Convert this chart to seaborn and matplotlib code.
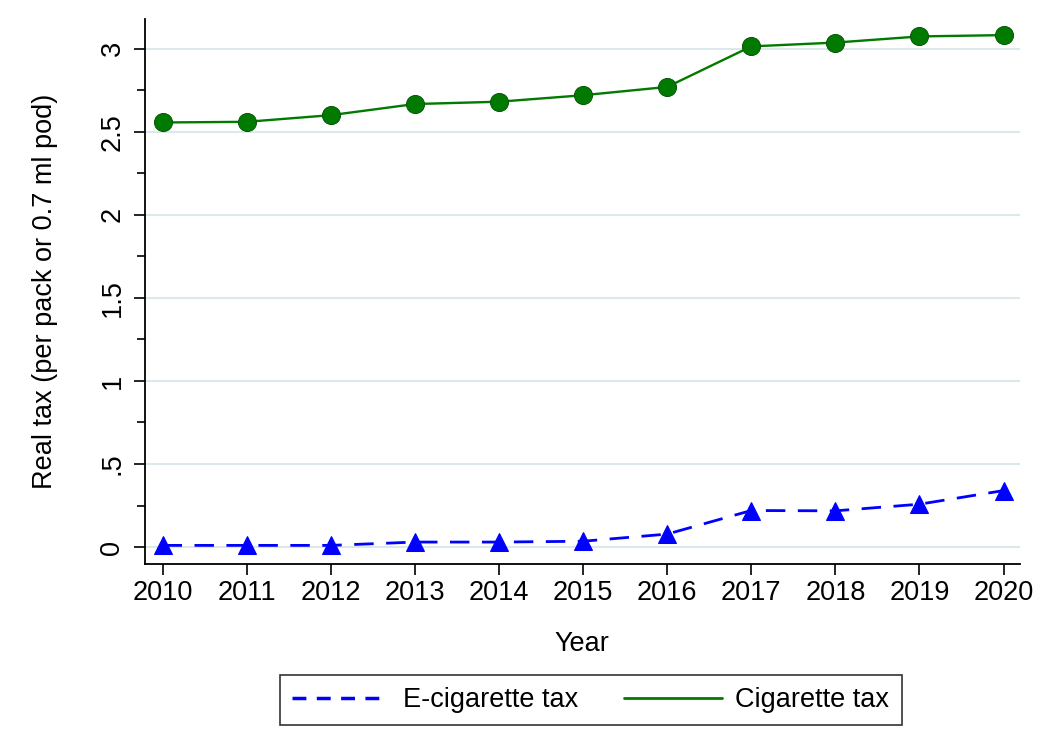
import pandas as pd
import matplotlib.pyplot as plt
import seaborn as sns
from matplotlib.lines import Line2D
from matplotlib.ticker import MultipleLocator

# data
years = [2010, 2011, 2012, 2013, 2014, 2015, 2016, 2017, 2018, 2019, 2020]
cig_tax = [2.556, 2.560, 2.600, 2.667, 2.681, 2.720, 2.770, 3.014, 3.037, 3.074, 3.082]
ecig_tax = [0.010, 0.010, 0.010, 0.030, 0.030, 0.035, 0.078, 0.220, 0.218, 0.258, 0.340]
ytick_vals = [0, 0.5, 1, 1.5, 2, 2.5, 3]
ytick_labels = ["0", ".5", "1", "1.5", "2", "2.5", "3"]

df = pd.DataFrame({"Year": years, "cig": cig_tax, "ecig": ecig_tax})

sns.set_style("white")
plt.rcParams["font.family"] = ["Liberation Sans", "DejaVu Sans"]
plt.rcParams["text.color"] = "black"
plt.rcParams["axes.labelcolor"] = "black"
plt.rcParams["xtick.color"] = "black"
plt.rcParams["ytick.color"] = "black"

fig = plt.figure(figsize=(10.5, 7.53), dpi=100)
ax = fig.add_axes([0.138, 0.251, 0.833, 0.724])

green = "#007a00"
blue = "#0000ff"

sns.lineplot(data=df, x="Year", y="ecig", ax=ax, color=blue, lw=2,
             marker="^", markersize=13, markeredgecolor=blue,
             legend=False, zorder=3)
ax.lines[-1].set_dashes([7, 4.5])
sns.lineplot(data=df, x="Year", y="cig", ax=ax, color=green, lw=1.7,
             marker="o", markersize=13, markeredgecolor="#0a5a0a",
             legend=False, zorder=3)

ax.set_xlim(2009.79, 2020.19)
ax.set_ylim(-0.102, 3.18)
ax.set_xticks(years)
ax.set_yticks(ytick_vals)
ax.set_yticklabels(ytick_labels, rotation=90, va="center")
ax.yaxis.set_minor_locator(MultipleLocator(0.25))
ax.tick_params(axis="both", which="both", direction="out", length=8,
               width=1.2, color="black", labelsize=19.5, left=True, bottom=True)
ax.tick_params(axis="y", which="minor", length=6)
ax.tick_params(axis="y", pad=6)
ax.grid(axis="y", which="major", color="#dce8ec", lw=1.5)
ax.grid(axis="x", visible=False)

for side in ["top", "right"]:
    ax.spines[side].set_visible(False)
for side in ["left", "bottom"]:
    ax.spines[side].set_color("black")
    ax.spines[side].set_linewidth(1.3)

ax.set_xlabel("Year", fontsize=19.5, labelpad=18)
ax.set_ylabel("Real tax (per pack or 0.7 ml pod)", fontsize=19.5, labelpad=30)

handles = [Line2D([], [], color=blue, lw=2.5, dashes=[4, 3]),
           Line2D([], [], color=green, lw=2)]
leg = fig.legend(handles, ["E-cigarette tax", "Cigarette tax"], ncol=2,
                 loc="center", bbox_to_anchor=(0.5625, 0.0704), fontsize=19.5,
                 frameon=True, fancybox=False, handlelength=3.6,
                 columnspacing=1.7, borderpad=0.45, handletextpad=0.5,
                 borderaxespad=0)
leg.get_frame().set_edgecolor("black")
leg.get_frame().set_linewidth(1.2)

fig.savefig("out.png", dpi=100)
